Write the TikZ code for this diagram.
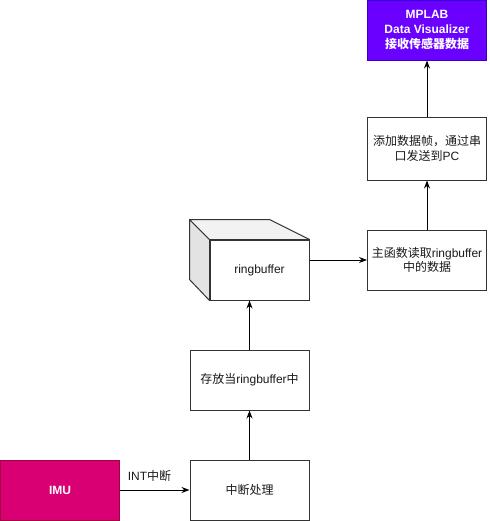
\documentclass[tikz,border=0pt]{standalone}
\usepackage{fontspec}
\setmainfont{Liberation Sans}
\newfontfamily\cjk{Noto Sans CJK SC}
\usetikzlibrary{arrows.meta}
\definecolor{txt}{HTML}{1A1A1A}
\definecolor{mpfill}{HTML}{6A00FF}
\definecolor{mpline}{HTML}{3700CC}
\definecolor{imufill}{HTML}{D80073}
\definecolor{imuline}{HTML}{A50040}
\definecolor{sidegray}{HTML}{E3E3E3}
\definecolor{topgray}{HTML}{F2F2F2}
\begin{document}
\begin{tikzpicture}[x=0.75pt,y=-0.75pt,
  every node/.style={font=\fontsize{9pt}{11pt}\selectfont, text=txt, inner sep=0pt},
  box/.style={draw=black!80, line width=0.75pt, fill=white, minimum width=89.25pt, minimum height=45pt, align=center},
  conn/.style={line width=0.75pt, -{Stealth[length=6pt,width=4.5pt]}}]
\useasboundingbox (0,0) rectangle (489,521);
% nodes
\node[box, fill=mpfill, draw=mpline, text=white, font=\bfseries\fontsize{9pt}{11pt}\selectfont] (mp) at (427,30) {MPLAB\\Data Visualizer\\{\cjk 接收传感器数据}};
\node[box, minimum height=47.25pt] (add) at (427,148.5) {{\cjk 添加数据帧，通过串}\\{\cjk 口发送到}PC};
\node[box] (main) at (427,260) {{\cjk 主函数读取}ringbuffer\\{\cjk 中的数据}};
% cube
\node[box, minimum width=74.25pt] (rb) at (259.5,270) {ringbuffer};
\filldraw[fill=sidegray, draw=black!80, line width=0.75pt, line join=round]
  (rb.north west) -- ++(-20,-20) -- ++(0,60) -- (rb.south west) -- cycle;
\filldraw[fill=topgray, draw=black!80, line width=0.75pt, line join=round]
  (rb.north west) -- ++(-20,-20) -- ++(80,0) -- (rb.north east) -- cycle;
\node[box] (store) at (249.5,380) {{\cjk 存放当}ringbuffer{\cjk 中}};
\node[box] (irq) at (249.5,490) {{\cjk 中断处理}};
\node[box, fill=imufill, draw=imuline, text=white, font=\bfseries\fontsize{9pt}{11pt}\selectfont] (imu) at (60,490) {IMU};
% connectors
\draw[conn] (imu.east) -- node[above=6pt, xshift=-4pt] {INT{\cjk 中断}} (irq.west);
\draw[conn] (irq.north) -- (store.south);
\draw[conn] (store.north) -- (store.north |- rb.south);
\draw[conn] (main.west -| rb.east) -- (main.west);
\draw[conn] (main.north) -- (add.south);
\draw[conn] (add.north) -- (mp.south);
\end{tikzpicture}
\end{document}
